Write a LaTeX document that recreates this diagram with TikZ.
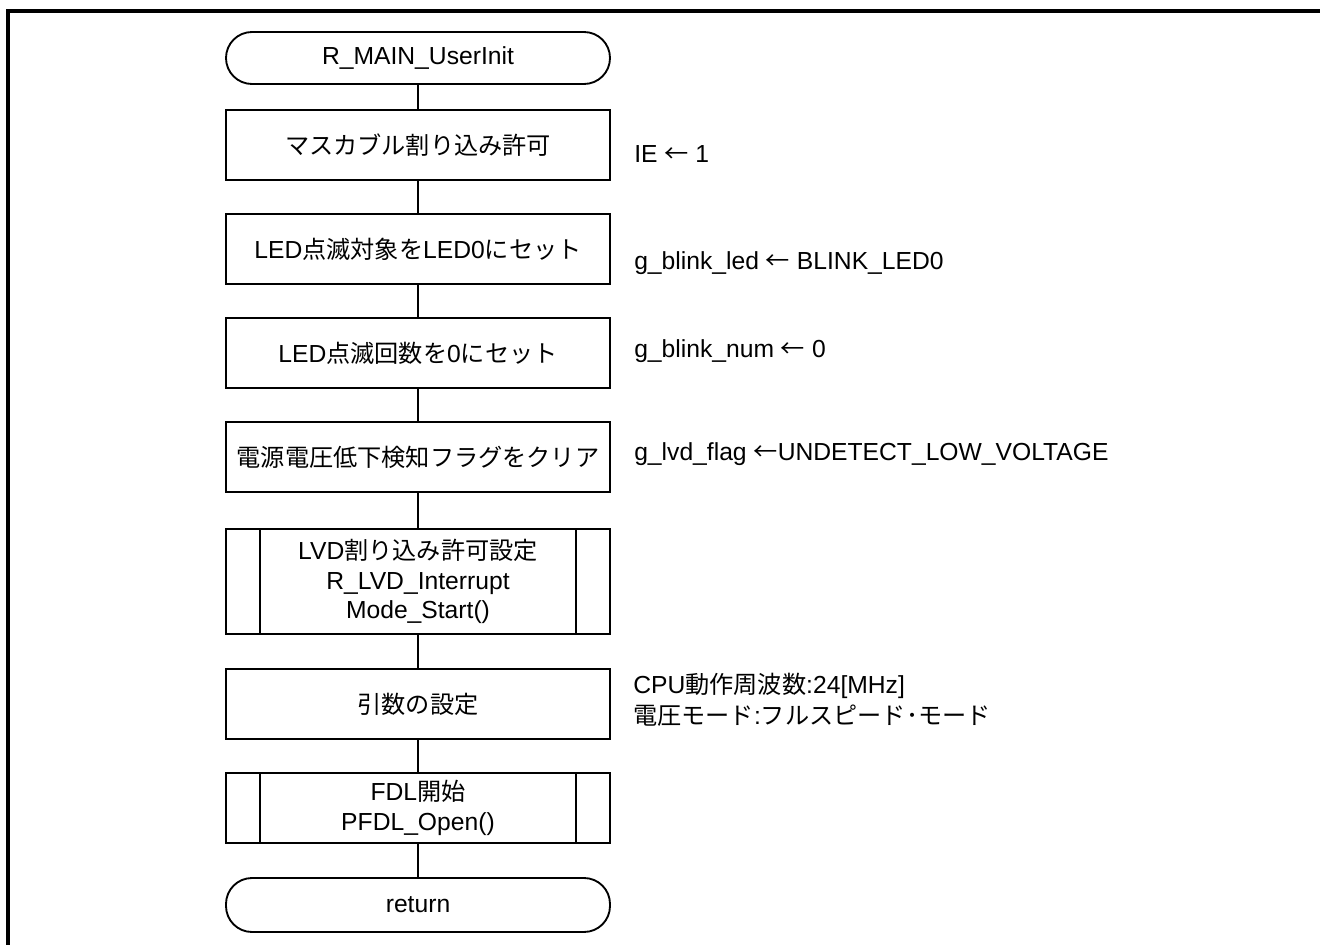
\documentclass[tikz,border=0pt]{standalone}
\usepackage{fontspec}
\setmainfont{Liberation Sans}
\newfontfamily\cjk[Scale=0.98]{Noto Sans CJK JP}
\begin{document}
\begin{tikzpicture}[x=0.75pt,y=-0.75pt,
  every node/.style={font=\fontsize{18.5}{22}\selectfont},
  proc/.style={draw,line width=1.4pt,minimum width=288pt,minimum height=52.5pt,inner sep=2pt,align=center},
  subr/.style={proc,minimum height=78.75pt},
  term/.style={draw,line width=1.4pt,rounded corners=19.5pt,minimum width=288pt,minimum height=39pt,inner sep=2pt},
  conn/.style={line width=1pt},
  note/.style={anchor=west,inner sep=0pt,align=left},
  frame/.style={line width=2.5pt}]
\useasboundingbox (0,0) rectangle (1320,945);
\draw[frame] (8,945) -- (8,11) -- (1320,11);

\node[term] (start) at (418,58) {R\_MAIN\_UserInit};
\node[proc] (b1) at (418,145) {{\cjk マスカブル割り込み許可}};
\node[proc] (b2) at (418,249) {LED{\cjk 点滅対象を}LED0{\cjk にセット}};
\node[proc] (b3) at (418,353) {LED{\cjk 点滅回数を}0{\cjk にセット}};
\node[proc] (b4) at (418,457) {{\cjk 電源電圧低下検知フラグをクリア}};
\node[subr] (b5) at (418,581.5) {LVD{\cjk 割り込み許可設定}\\R\_LVD\_Interrupt\\Mode\_Start()};
\node[proc] (b6) at (418,704) {{\cjk 引数の設定}};
\node[proc] (b7) at (418,808) {FDL{\cjk 開始}\\PFDL\_Open()};
\node[term,minimum height=40.5pt] (ret) at (418,905) {return};

\foreach \n in {b5,b7}{
  \draw[line width=1.2pt] ([xshift=26.25pt]\n.north west) -- ([xshift=26.25pt]\n.south west);
  \draw[line width=1.2pt] ([xshift=-26.25pt]\n.north east) -- ([xshift=-26.25pt]\n.south east);
}

\draw[conn] (start) -- (b1);
\draw[conn] (b1) -- (b2);
\draw[conn] (b2) -- (b3);
\draw[conn] (b3) -- (b4);
\draw[conn] (b4) -- (b5);
\draw[conn] (b5) -- (b6);
\draw[conn] (b6) -- (b7);
\draw[conn] (b7) -- (ret);

\node[note] (n1) at (634,154) {IE {\cjk ←} 1};
\node[note] (n2) at (634,263) {g\_blink\_led {\cjk ←} BLINK\_LED0};
\node[note] (n3) at (634,351) {g\_blink\_num {\cjk ←} 0};
\node[note] (n4) at (634,454) {g\_lvd\_flag {\cjk ←}UNDETECT\_LOW\_VOLTAGE};
\node[note,font=\fontsize{18.5}{23.5}\selectfont] (n6) at (633,700) {CPU{\cjk 動作周波数}:24[MHz]\\{\cjk 電圧モード}:{\cjk フルスピード･モード}};
\end{tikzpicture}
\end{document}
